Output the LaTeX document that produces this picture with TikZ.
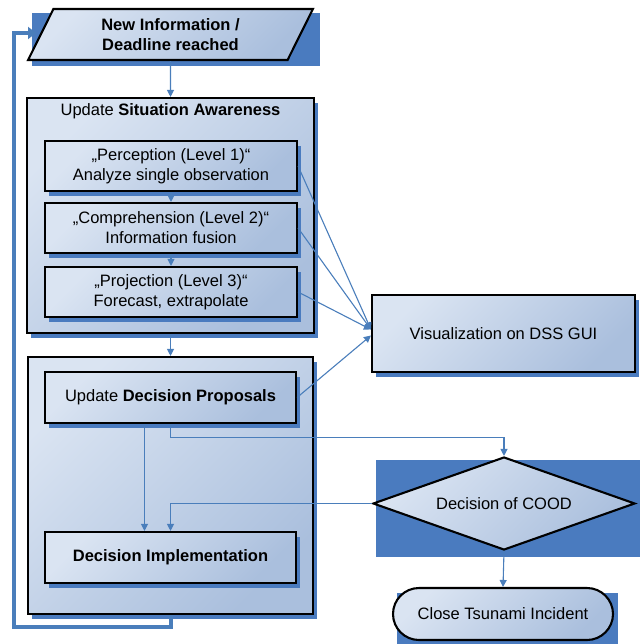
\documentclass[tikz,border=0pt]{standalone}
\usepackage{fontspec}
\setmainfont{Liberation Sans}
\usetikzlibrary{shapes.geometric,arrows.meta,shadows}
\definecolor{shadowblue}{HTML}{4A7BBF}
\definecolor{lineblue}{HTML}{4A7EBB}
\definecolor{gradlight}{HTML}{DAE4F2}
\definecolor{graddark}{HTML}{AABFDD}
\begin{document}
\begin{tikzpicture}[x=1pt,y=-1pt,
  font=\fontsize{16.5}{20}\selectfont,
  box/.style={draw=black, line width=2.1pt, top color=gradlight, bottom color=graddark, shading angle=45, align=center, inner sep=0pt},
  sbox/.style={box, general shadow={fill=shadowblue, shadow xshift=4pt, shadow yshift=-5pt}},
  conn/.style={draw=lineblue, line width=1.1pt, -{Triangle[length=7pt,width=7pt]}},
  loopline/.style={draw=lineblue, line width=4pt, -{Triangle[length=8pt,width=12pt]}}
]
\useasboundingbox (0,0) rectangle (639,644);

% rectangular shadows of the non-rectangular shapes
\fill[shadowblue] (32,13) rectangle (320,66);
\fill[shadowblue] (376,460) rectangle (645,557);
\fill[shadowblue] (397,593) rectangle (618,650);

% start
\node[box, trapezium, trapezium left angle=65, trapezium right angle=115, trapezium stretches=true,
      minimum width=285pt, minimum height=51pt, font=\fontsize{16.5}{20}\selectfont\bfseries] (newinfo) at (170.5,34.5) {New Information /\\Deadline reached};

% situation awareness
\node[sbox, minimum width=287pt, minimum height=235pt] (sa) at (170.5,215.5) {};
\node (satitle) at (170.5,111) {Update \textbf{Situation Awareness}};
\node[sbox, minimum width=252pt, minimum height=50pt] (perc) at (171,166) {„Perception (Level 1)“\\Analyze single observation};
\node[sbox, minimum width=252pt, minimum height=50pt] (comp) at (171,228) {„Comprehension (Level 2)“\\Information fusion};
\node[sbox, minimum width=252pt, minimum height=50pt] (proj) at (171,292) {„Projection (Level 3)“\\Forecast, extrapolate};

% decision
\node[sbox, minimum width=285pt, minimum height=257pt] (dec) at (170.5,485.5) {};
\node[sbox, minimum width=251pt, minimum height=51pt] (prop) at (170.5,397.5) {Update \textbf{Decision Proposals}};
\node[sbox, minimum width=251pt, minimum height=51pt, font=\fontsize{16.5}{20}\selectfont\bfseries] (impl) at (170.5,557.5) {Decision Implementation};

% right side
\node[sbox, minimum width=263pt, minimum height=77pt] (vis) at (503.5,333.5) {Visualization on DSS GUI};
\node[box, diamond, aspect=2.8, minimum width=262pt, minimum height=93pt] (cood) at (504,503.5) {Decision of COOD};
\node[box, rounded corners=26pt, minimum width=220pt, minimum height=52pt] (close) at (503,614) {Close Tsunami Incident};

% connectors
\draw[conn] (newinfo.south) -- (sa.north);
\draw[conn] (perc.south) -- (comp.north);
\draw[conn] (comp.south) -- (proj.north);
\draw[conn] (sa.south) -- (dec.north);
\draw[conn] ([xshift=-26pt]prop.south) -- ([xshift=-26pt]impl.north);
\draw[conn] (prop.south) -- ++(0,13) -| (cood.north);
\draw[conn] (cood.west) -| (impl.north);
\draw[conn] (cood.south) -- (close.north);
\draw[conn] (perc.east) -- ([yshift=4pt]vis.west);
\draw[conn] (comp.east) -- ([yshift=4pt]vis.west);
\draw[conn] (proj.east) -- ([yshift=4pt]vis.west);
\draw[conn] (prop.east) -- ([yshift=-2pt]vis.west);

% feedback loop
\coordinate (loopcorner) at (14,33);
\coordinate (loopend) at (36,33);
\draw[loopline] (dec.south) -- ++(0,12) -| (loopcorner) -- (loopend);
\end{tikzpicture}
\end{document}
